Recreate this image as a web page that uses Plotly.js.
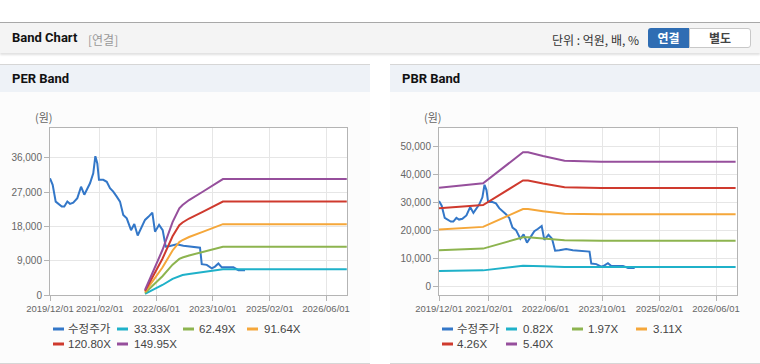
<!DOCTYPE html>
<html>
<head>
<meta charset="utf-8">
<script src="https://cdn.plot.ly/plotly-3.0.1.min.js"></script>
<style>
  html, body { margin:0; padding:0; background:#ffffff; width:760px; height:364px; overflow:hidden;
    font-family: "Liberation Sans", "Noto Sans CJK KR", sans-serif; }
  #topbar { position:absolute; left:0; top:22px; width:760px; height:30px; background:#f4f4f4;
    border-top:1px solid #a8a8a8; box-shadow:0 2px 2px rgba(0,0,0,0.12); }
  #topbar .title { position:absolute; left:12px; top:7px; font:bold 13px Roboto, "Noto Sans CJK KR", sans-serif; color:#111; }
  #topbar .sub { position:absolute; left:88px; top:8px; font:12px "Noto Sans CJK KR", sans-serif; color:#999; }
  #topbar .unit { position:absolute; left:552px; top:8px; font:12px "Noto Sans CJK KR", sans-serif; color:#333; }
  #btn1 { position:absolute; left:648px; top:5px; width:41px; height:20px; background:#2f6db3; color:#fff;
    border-radius:3px 0 0 3px; font:bold 12px "Noto Sans CJK KR", sans-serif; text-align:center; line-height:20px; }
  #btn2 { position:absolute; left:689px; top:5px; width:60px; height:18px; background:#fff; color:#444;
    border:1px solid #c8c8c8; border-radius:0 3px 3px 0; font:bold 12px "Noto Sans CJK KR", sans-serif; text-align:center; line-height:18px; }
  .panel { position:absolute; top:64px; width:370px; height:298px; background:#fcfcfc;
    border-top:1px solid #d6d6d6; border-bottom:1px solid #d6d6d6; }
  .panel .hdr { position:absolute; left:0; top:0; width:370px; height:27px; background:#eef2f7; }
  .panel .hdr span { position:absolute; left:12px; top:6px; font:bold 13px Roboto, sans-serif; color:#111; }
  .chart { position:absolute; left:0; top:27px; width:370px; height:271px; }
</style>
</head>
<body>
<div id="topbar">
  <div class="title">Band Chart</div>
  <div class="sub">[연결]</div>
  <div class="unit">단위 : 억원, 배, %</div>
  <div id="btn1">연결</div>
  <div id="btn2">별도</div>
</div>
<div class="panel" style="left:0px;"><div class="hdr"><span>PER Band</span></div><div class="chart" id="per"></div></div>
<div class="panel" style="left:390px;"><div class="hdr"><span>PBR Band</span></div><div class="chart" id="pbr"></div></div>
<script>
// ---------- data ----------
const tickDates = ['2019-12-01','2021-02-01','2022-06-01','2023-10-01','2025-02-01','2026-06-01'];
const tickLabels = ['2019/12/01','2021/02/01','2022/06/01','2023/10/01','2025/02/01','2026/06/01'];

const priceDates = ['2019-12-01','2019-12-24','2020-01-19','2020-03-11','2020-04-02','2020-04-28','2020-05-21',
  '2020-06-18','2020-07-23','2020-08-24','2020-09-21','2020-11-09','2020-12-07','2020-12-25','2021-01-11',
  '2021-01-25','2021-03-03','2021-04-02','2021-04-30','2021-05-28','2021-06-27','2021-07-25','2021-08-22',
  '2021-09-21','2021-10-28','2021-11-25','2021-12-24','2022-01-22','2022-02-25','2022-03-26','2022-04-29',
  '2022-05-22','2022-06-26','2022-07-27','2022-08-22','2022-09-28','2022-11-25','2023-01-21','2023-03-19',
  '2023-05-16','2023-06-13','2023-06-28','2023-08-10','2023-09-22','2023-10-20','2023-11-18','2023-12-17',
  '2024-03-26','2024-05-08','2024-07-04'];
const priceValues = [30600,28900,24500,23200,23200,24500,23900,24200,25400,28400,26300,29300,31900,36400,34500,
  30200,30200,29700,28000,27100,25800,24500,21000,20100,17000,18600,15600,17500,19700,20500,21600,16600,18400,
  17000,12700,12850,13300,12900,12700,12500,12400,8100,7900,7000,7450,8250,7250,7250,6500,6500];

const perBandDates = ['2022-02-25','2022-07-25','2022-10-20','2022-12-17','2023-01-14','2023-03-11',
  '2023-07-06','2023-10-29','2023-12-27','2026-11-26'];
const per3333 = [291,2623,4245,5050,5246,5535,6019,6508,6757,6757];
const per6249 = [546,4918,7960,9468,9835,10377,11285,12202,12669,12669];
const per9164 = [801,7211,11673,13885,14423,15217,16549,17894,18578,18578];
const per12080 = [1055,9506,15387,18303,19012,20059,21816,23588,24490,24490];
const per14995 = [1310,11800,19100,22720,23600,24900,27080,29280,30400,30400];

const pbrBandDates = ['2019-12-01','2020-12-13','2021-11-20','2022-01-02','2022-05-10','2022-11-11',
  '2023-09-20','2026-11-16'];
const pbr082 = [5450,5650,7302,7302,7101,6900,6850,6850];
const pbr197 = [12900,13476,17544,17544,17059,16442,16311,16311];
const pbr311 = [20365,21275,27696,27696,26930,25957,25800,25800];
const pbr426 = [27995,29141,37938,37938,36889,35555,35271,35271];
const pbr540 = [35360,36940,48090,48090,46760,45070,44710,44710];

const perNames = ['수정주가','33.33X','62.49X','91.64X','120.80X','149.95X'];
const pbrNames = ['수정주가','0.82X','1.97X','3.11X','4.26X','5.40X'];
const seriesColors = ['#3377c8','#1fb1c9','#8db44f','#f5a73a','#cf3a2e','#964f9c'];

// ---------- drawing ----------
function buildChart(id, names, bandDates, bands, yRange, yTicks) {
  const traces = [];
  traces.push({x: priceDates, y: priceValues, name: names[0], type:'scatter', mode:'lines',
    line:{color: seriesColors[0], width:2}});
  bands.forEach((b, i) => traces.push({x: bandDates, y: b, name: names[i+1], type:'scatter', mode:'lines',
    line:{color: seriesColors[i+1], width:2}}));

  const shapes = [], annotations = [];
  const swX = [3, 67, 133, 197], txX = [16, 82, 147, 212];
  names.forEach((n, i) => {
    const row = i < 4 ? 0 : 1, col = i < 4 ? i : i - 4;
    const yOff = row === 0 ? -34 : -49;
    shapes.push({type:'line', xref:'paper', yref:'paper', xsizemode:'pixel', ysizemode:'pixel',
      xanchor:0, yanchor:0, x0: swX[col], x1: swX[col] + 11, y0: yOff, y1: yOff,
      line:{color: seriesColors[i], width:3}});
    annotations.push({xref:'paper', yref:'paper', x:0, y:0, xshift: txX[col], yshift: yOff,
      xanchor:'left', yanchor:'middle', showarrow:false, text:n,
      font:{size:11.5, color:'#444', family:'"Liberation Sans", "Noto Sans CJK KR", sans-serif'}});
  });
  annotations.push({xref:'paper', yref:'paper', x:0, y:1, xshift:-6, yshift:11, xanchor:'center',
    yanchor:'middle', showarrow:false, text:'(원)',
    font:{size:11, color:'#666', family:'"Noto Sans CJK KR", sans-serif'}});

  const layout = {
    width:370, height:271,
    margin:{l: id === 'per' ? 50 : 49, r:23, t:36, b:68},
    paper_bgcolor:'rgba(0,0,0,0)', plot_bgcolor:'#ffffff',
    showlegend:false,
    font:{family:'"Liberation Sans", sans-serif', size:10, color:'#666'},
    xaxis:{type:'date', range:['2019-12-01','2026-11-28'], tickvals: tickDates, ticktext: tickLabels,
      tickangle:0, automargin:false,
      showgrid:true, gridcolor:'#e6e6e6', showline:true, linecolor:'#b4b4b4', mirror:true,
      ticks:'outside', ticklen:5, tickcolor:'#b4b4b4', tickfont:{size:9.5, color:'#666'}, zeroline:false, fixedrange:true},
    yaxis:{range: yRange, tickvals: yTicks, tickformat:',d', showgrid:true, gridcolor:'#e6e6e6', automargin:false,
      showline:true, linecolor:'#b4b4b4', mirror:true, ticks:'outside', ticklen:5, tickcolor:'#b4b4b4',
      tickfont:{size:10, color:'#666'}, zeroline:false, fixedrange:true},
    shapes: shapes, annotations: annotations
  };
  Plotly.newPlot(id, traces, layout, {staticPlot:true, displayModeBar:false});
}

buildChart('per', perNames, perBandDates, [per3333, per6249, per9164, per12080, per14995],
  [0, 43800], [0, 9000, 18000, 27000, 36000]);
buildChart('pbr', pbrNames, pbrBandDates, [pbr082, pbr197, pbr311, pbr426, pbr540],
  [-3200, 56800], [0, 10000, 20000, 30000, 40000, 50000]);
</script>
</body>
</html>
